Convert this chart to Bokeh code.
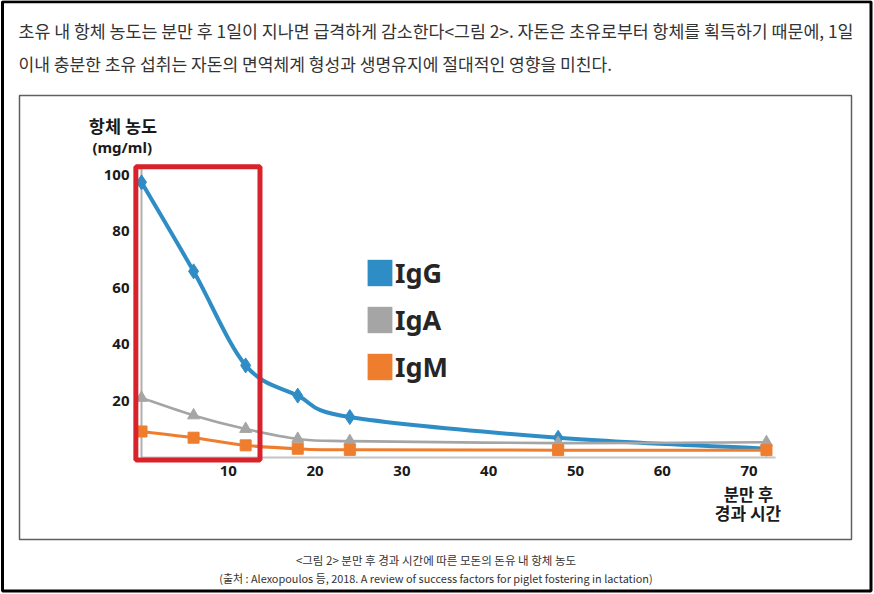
from bokeh.plotting import figure
from bokeh.models import Range1d, Label, Legend, LegendItem, FixedTicker
from bokeh.embed import file_html
from bokeh.resources import INLINE

# ---------------- data ----------------
HOURS = [0, 6, 12, 18, 24, 48, 72]
IGG = [97.3, 65.8, 32.5, 21.8, 14.2, 6.9, 3.0]
IGA = [21.0, 14.8, 10.0, 6.5, 5.7, 5.0, 5.3]
IGM = [9.1, 6.9, 4.2, 3.0, 2.6, 2.5, 2.5]
SERIES_NAMES = ["IgG", "IgA", "IgM"]
X_TICKS = [10, 20, 30, 40, 50, 60, 70]
Y_TICKS = [20, 40, 60, 80, 100]
HIGHLIGHT_HOURS = (-0.65, 13.65)
HIGHLIGHT_CONC = (-1.0, 102.8)
X_AXIS_END = 73.0
Y_AXIS_END = 102.8

HEADER_LINES = [
    "초유 내 항체 농도는 분만 후 1일이 지나면 급격하게 감소한다<그림 2>. 자돈은 초유로부터 항체를 획득하기 때문에, 1일",
    "이내 충분한 초유 섭취는 자돈의 면역체계 형성과 생명유지에 절대적인 영향을 미친다.",
]
Y_TITLE = ["항체 농도", "(mg/ml)"]
X_TITLE = ["분만 후", "경과 시간"]
CAPTION = [
    "<그림 2> 분만 후 경과 시간에 따른 모돈의 돈유 내 항체 농도",
    "(출처 : Alexopoulos 등, 2018. A review of success factors for piglet fostering in lactation)",
]

# ---------------- layout / styles ----------------
W, H = 874, 594
X0_PX, PX_PER_HOUR = 141.0, 8.68
Y0_PX, PX_PER_UNIT = 456.7, 2.825
COLORS = {"IgG": "#2f8dc6", "IgA": "#a5a5a5", "IgM": "#ee7d2e"}
MARKERS = {"IgG": ("diamond", 15), "IgA": ("triangle", 12), "IgM": ("square", 11)}
WIDTHS = {"IgG": 4, "IgA": 2.6, "IgM": 3}
KR = "Noto Sans CJK KR"
LAT = "Noto Sans"
NAN = float("nan")


def hx(px):
    return (px - X0_PX) / PX_PER_HOUR


def vy(py):
    return (Y0_PX - py) / PX_PER_UNIT


p = figure(width=W, height=H,
           x_range=Range1d(hx(0), hx(W)),
           y_range=Range1d(vy(H), vy(0)),
           output_backend="svg", toolbar_location=None, min_border=0)
p.grid.visible = False
p.outline_line_color = None
p.background_fill_color = "white"
p.border_fill_color = "white"

# axes placed at the data origin
xa = p.xaxis[0]
xa.fixed_location = 0
xa.bounds = (0, X_AXIS_END)
xa.ticker = FixedTicker(ticks=X_TICKS)
xa.axis_line_color = "#c4c4c4"
xa.axis_line_width = 2
ya = p.yaxis[0]
ya.fixed_location = 0
ya.bounds = (0, Y_AXIS_END)
ya.ticker = FixedTicker(ticks=Y_TICKS)
ya.axis_line_color = "#b0b0b0"
ya.axis_line_width = 2
for ax in (xa, ya):
    ax.major_tick_out = 0
    ax.major_tick_in = 0
    ax.minor_tick_out = 0
    ax.minor_tick_in = 0
    ax.major_label_text_font = LAT
    ax.major_label_text_font_style = "bold"
    ax.major_label_text_font_size = "15px"
    ax.major_label_text_color = "#1a1a1a"
xa.major_label_standoff = 9
ya.major_label_standoff = 12

# frames
p.quad(left=hx(2), right=hx(870.5), top=vy(1.2), bottom=vy(590.5),
       fill_color=None, line_color="black", line_width=3)
p.quad(left=hx(19), right=hx(851), top=vy(95), bottom=vy(539),
       fill_color=None, line_color="#5f5f5f", line_width=1.5)


def smooth(xs, ys):
    n = len(xs)
    out = {k: [] for k in ("x0", "y0", "x1", "y1", "cx0", "cy0", "cx1", "cy1")}
    for i in range(n - 1):
        a = max(i - 1, 0)
        b = min(i + 2, n - 1)
        out["x0"].append(xs[i]); out["y0"].append(ys[i])
        out["x1"].append(xs[i + 1]); out["y1"].append(ys[i + 1])
        out["cx0"].append(xs[i] + (xs[i + 1] - xs[a]) / 6)
        out["cy0"].append(ys[i] + (ys[i + 1] - ys[a]) / 6)
        out["cx1"].append(xs[i + 1] - (xs[b] - xs[i]) / 6)
        out["cy1"].append(ys[i + 1] - (ys[b] - ys[i]) / 6)
    return out


for name, vals in zip(SERIES_NAMES, [IGG, IGA, IGM]):
    c = COLORS[name]
    p.bezier(**smooth(HOURS, vals), line_color=c, line_width=WIDTHS[name], level="annotation")
    m, s = MARKERS[name]
    p.scatter(HOURS, vals, marker=m, size=s, fill_color=c, line_color=c, level="annotation")

# highlight box
p.quad(left=HIGHLIGHT_HOURS[0], right=HIGHLIGHT_HOURS[1],
       bottom=HIGHLIGHT_CONC[0], top=HIGHLIGHT_CONC[1],
       fill_color=None, line_color="#d8232a", line_width=5, level="overlay")

# legend with square swatches (proxy renderers hold no drawable coordinates)
items = []
for name in SERIES_NAMES:
    r = p.quad(left=[NAN], right=[NAN], top=[NAN], bottom=[NAN],
               fill_color=COLORS[name], line_color=None)
    items.append(LegendItem(label=name, renderers=[r]))
legend = Legend(items=items, location=(364, 209), orientation="vertical",
                glyph_width=31, glyph_height=33, label_height=33, spacing=10,
                label_standoff=-2, padding=0, margin=0,
                border_line_color=None, background_fill_alpha=0,
                label_text_font=LAT, label_text_font_style="bold",
                label_text_font_size="27px", label_text_color="#262626")
p.add_layout(legend)


def label(text, cx, cy, size, align="center", bold=False, color="#1a1a1a", font=KR):
    p.add_layout(Label(x=hx(cx), y=vy(cy), text=text, text_align=align,
                       text_baseline="middle", text_font=font,
                       text_font_size=size, text_color=color,
                       text_font_style="bold" if bold else "normal"))


label(HEADER_LINES[0], 18, 30, "17.3px", align="left", color="#333333")
label(HEADER_LINES[1], 18, 63, "17.1px", align="left", color="#333333")
label(Y_TITLE[0], 122.5, 125, "17.5px", bold=True)
label(Y_TITLE[1], 121.7, 146, "15px", bold=True, font=LAT)
label(X_TITLE[0], 748, 493.5, "16.5px", bold=True)
label(X_TITLE[1], 747.5, 512, "17px", bold=True)
label(CAPTION[0], 435.5, 559, "11.5px", color="#333333")
label(CAPTION[1], 435.5, 577.5, "10.9px", color="#333333")

open("out.html", "w").write(file_html(p, INLINE))
